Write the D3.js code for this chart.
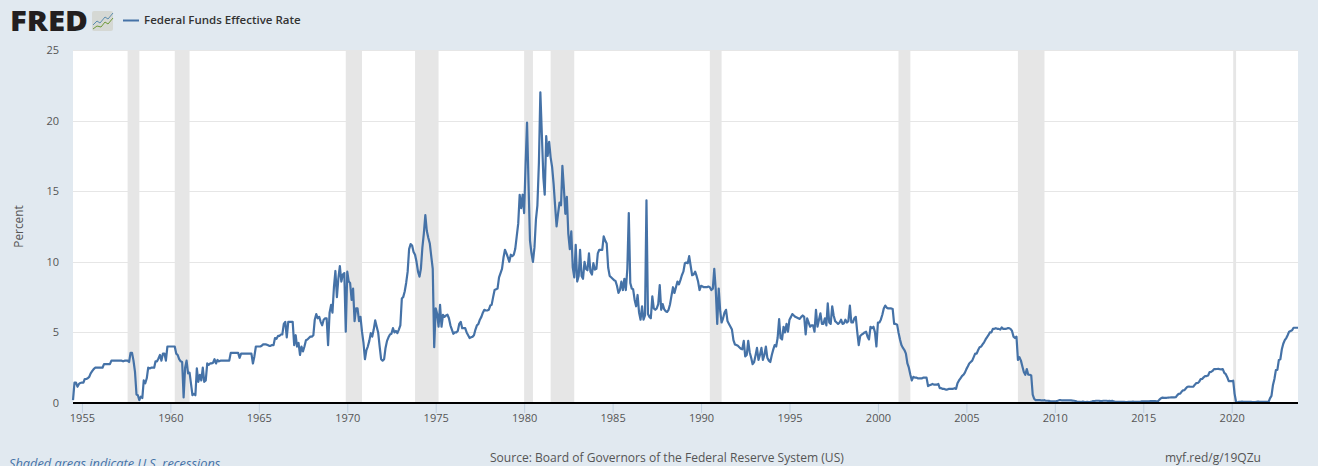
<!DOCTYPE html>
<html>
<head>
<meta charset="utf-8">
<script src="https://cdnjs.cloudflare.com/ajax/libs/d3/7.8.5/d3.min.js"></script>
<style>
  html, body { margin: 0; padding: 0; background: #e1e9f0; overflow: hidden; }
  text { font-family: "Open Sans", sans-serif; }
  .domain { display: none; }
</style>
</head>
<body>
<div id="vis-container"></div>
<script>
// monthly values, first one is July 1954
var rates1950s = [
  0.2, 1.45, 1.45, 1.15, 1.35, 1.42,
  1.45, 1.45, 1.7, 1.7, 1.75, 1.85, 2.1, 2.25, 2.4, 2.5, 2.5, 2.5,
  2.5, 2.5, 2.5, 2.75, 2.75, 2.75, 2.75, 2.75, 3.0, 3.0, 3.0, 3.0,
  3.0, 3.0, 3.0, 3.0, 2.95, 3.0, 3.0, 3.0, 2.9, 3.55, 3.55, 3.0,
  2.2, 0.6, 0.55, 0.2, 0.45, 0.35, 1.6, 1.4, 1.75, 2.5, 2.45, 2.5,
  2.5, 2.5, 2.95, 2.95, 3.15, 3.4, 3.0, 3.5, 3.5, 3.0, 4.0, 4.0
];
var rates1960s = [
  4.0, 4.0, 4.0, 4.0, 3.5, 3.4, 3.1, 2.95, 2.9, 0.4, 2.5, 3.0,
  2.1, 2.15, 1.4, 0.55, 0.65, 0.55, 2.45, 1.5, 2.0, 1.6, 2.5, 1.5,
  1.6, 2.8, 2.7, 2.8, 2.8, 2.85, 3.1, 2.8, 3.05, 2.95, 3.0, 3.0,
  3.0, 3.0, 3.0, 3.0, 3.0, 3.55, 3.55, 3.55, 3.55, 3.55, 3.55, 3.2,
  3.5, 3.5, 3.5, 3.5, 3.5, 3.5, 3.5, 3.5, 2.8, 3.3, 4.0, 4.0,
  4.0, 4.0, 4.05, 4.15, 4.15, 4.15, 4.1, 4.05, 4.05, 4.1, 4.1, 4.6,
  4.55, 4.75, 4.75, 4.85, 4.85, 5.6, 5.75, 4.65, 5.75, 5.75, 5.75, 5.75,
  4.1, 4.8, 4.0, 4.25, 3.4, 4.0, 3.65, 4.0, 4.45, 4.5, 4.6, 4.7,
  4.7, 4.8, 5.9, 6.3, 6.0, 6.1, 5.75, 5.5, 5.9, 6.0, 6.0, 4.1,
  6.4, 6.95, 6.4, 8.2, 9.35, 7.5, 8.8, 9.7, 8.6, 9.1, 9.2, 5.05
];
var rates1970s = [
  9.3, 8.6, 8.5, 7.3, 8.1, 5.8, 6.7, 6.7, 5.8, 6.1, 5.05, 4.3,
  3.1, 3.75, 4.0, 4.4, 4.95, 4.7, 5.2, 5.85, 5.4, 5.0, 4.0, 3.1,
  3.0, 3.1, 3.9, 4.4, 4.65, 4.85, 4.9, 5.3, 5.0, 5.1, 4.95, 5.2,
  5.5, 7.4, 7.5, 7.9, 8.5, 9.3, 10.9, 11.25, 11.15, 10.7, 10.5, 10.0,
  9.3, 8.95, 9.5, 11.0, 12.0, 13.3, 12.2, 11.7, 11.3, 10.4, 9.5, 3.95,
  6.7, 6.3, 5.4, 6.95, 5.4, 6.25, 6.1, 6.2, 6.25, 6.0, 5.5, 5.2,
  4.9, 5.0, 5.0, 5.1, 5.6, 5.75, 5.3, 5.3, 5.3, 5.0, 4.8, 4.6,
  4.65, 4.7, 4.8, 5.2, 5.5, 5.6, 5.9, 6.1, 6.4, 6.6, 6.55, 6.55,
  6.6, 6.9, 6.95, 7.5, 8.0, 8.05, 8.1, 8.9, 9.2, 9.5, 10.3, 10.85,
  10.6, 10.3, 10.0, 10.5, 10.4, 10.5, 10.9, 11.8, 12.7, 14.75, 13.8, 14.75
];
var rates1980s = [
  13.45, 17, 19.85, 15.5, 11.5, 10.6, 10.0, 11, 13, 14, 17, 22,
  19, 16, 14.75, 18.9, 17.5, 18.5, 17.4, 16.7, 15.5, 14, 12.5, 13.4,
  14.2, 14, 16.8, 15.2, 13.4, 14.6, 12, 10.9, 12.15, 9.6, 8.9, 11.2,
  8.6, 9, 10.85, 9, 8.8, 10, 9.5, 9.4, 10.6, 9.3, 9.1, 9.9,
  9.45, 9.5, 10.6, 10.85, 10.85, 10.85, 11.8, 11.5, 11.3, 9.6, 9.0, 8.9,
  8.8, 8.7, 8.65, 8.3, 7.8, 8.0, 8.6, 8.0, 8.8, 8.0, 9.5, 13.45,
  8.5, 8.1, 8.05, 7.3, 6.85, 7.65, 6.4, 5.9, 6.85, 5.9, 6.2, 14.35,
  6.3, 6.1, 6.0, 7.55, 6.7, 6.6, 6.7, 7.0, 8.35, 6.6, 7.0, 6.65,
  6.5, 6.45, 6.6, 7.0, 7.6, 8.2, 7.8, 8.2, 8.6, 8.4, 8.7, 9.05,
  9.3, 9.9, 9.95, 9.9, 10.4, 9.7, 9.05, 9.1, 9.3, 9.0, 8.6, 8.0
];
var rates1990s = [
  8.3, 8.25, 8.2, 8.2, 8.2, 8.25, 8.2, 8.0, 8.1, 9.5, 8.0, 5.6,
  8.1, 6.5, 5.7, 6.0, 6.4, 6.6, 5.8, 5.6, 5.4, 5.2, 4.45, 4.15,
  4.1, 4.05, 3.95, 3.85, 3.8, 4.4, 3.3, 3.4, 4.4, 3.6, 3.2, 2.75,
  2.9, 3.4, 3.9, 3.05, 3.4, 3.9, 3.05, 3.4, 4.0, 3.2, 3.0, 2.9,
  3.4, 3.8, 4.1, 4.0, 4.6, 5.95, 4.6, 4.5, 5.4, 5.0, 5.6, 5.05,
  5.9, 6.1, 6.3, 6.2, 6.1, 6.05, 6.0, 5.95, 6.1, 6.2, 6.1, 4.85,
  6.0, 5.7, 5.4, 5.5, 5.5, 5.05, 6.6, 5.4, 5.9, 6.35, 5.6, 5.6,
  6.0, 5.5, 7.05, 5.7, 5.6, 6.85, 6.2, 5.8, 5.7, 5.6, 5.7, 5.9,
  5.6, 5.65, 5.9, 5.7, 5.8, 6.9, 5.7, 5.7, 6.0, 6.1, 5.0, 4.1,
  4.75, 4.85, 4.9, 5.0, 5.05, 4.7, 4.5, 5.4, 5.3, 5.4, 5.0, 4.0
];
var rates2000s = [
  5.7, 5.7, 5.9, 6.25, 6.7, 6.9, 6.75, 6.7, 6.7, 6.7, 6.65, 5.6,
  5.6, 5.55, 5.0, 4.5, 4.1, 3.9, 3.75, 3.5, 2.8, 2.5, 2.0, 1.6,
  1.85, 1.8, 1.8, 1.75, 1.75, 1.75, 1.75, 1.8, 1.8, 1.8, 1.2, 1.25,
  1.3, 1.35, 1.3, 1.3, 1.3, 1.35, 1.05, 1.05, 1.0, 1.0, 0.95, 0.95,
  1.0, 1.0, 1.0, 1.0, 1.05, 1.0, 1.4, 1.6, 1.75, 1.9, 2.0, 2.15,
  2.4, 2.6, 2.8, 2.9, 3.0, 3.25, 3.5, 3.5, 3.75, 3.95, 4.0, 4.15,
  4.3, 4.5, 4.65, 4.8, 5.0, 5.0, 5.25, 5.25, 5.3, 5.25, 5.25, 5.2,
  5.35, 5.25, 5.25, 5.25, 5.3, 5.3, 5.25, 5.1, 4.7, 4.6, 4.7, 3.05,
  3.25, 3.0, 2.6, 2.2, 2.0, 2.4, 2.0, 2.0, 1.95, 0.6, 0.3, 0.2,
  0.2, 0.2, 0.2, 0.18, 0.18, 0.2, 0.16, 0.16, 0.15, 0.12, 0.12, 0.12
];
var rates2010s = [
  0.12, 0.13, 0.16, 0.2, 0.2, 0.18, 0.18, 0.19, 0.19, 0.19, 0.19, 0.18,
  0.17, 0.16, 0.14, 0.1, 0.09, 0.09, 0.07, 0.1, 0.08, 0.07, 0.08, 0.07,
  0.08, 0.1, 0.13, 0.14, 0.16, 0.16, 0.16, 0.13, 0.14, 0.16, 0.16, 0.16,
  0.14, 0.15, 0.14, 0.15, 0.11, 0.09, 0.09, 0.08, 0.08, 0.09, 0.08, 0.09,
  0.07, 0.07, 0.08, 0.09, 0.09, 0.1, 0.09, 0.09, 0.09, 0.09, 0.09, 0.12,
  0.11, 0.11, 0.11, 0.12, 0.12, 0.13, 0.13, 0.14, 0.14, 0.12, 0.12, 0.24,
  0.34, 0.38, 0.36, 0.37, 0.37, 0.38, 0.39, 0.4, 0.4, 0.4, 0.41, 0.54,
  0.65, 0.66, 0.79, 0.9, 0.91, 1.04, 1.15, 1.16, 1.15, 1.15, 1.16, 1.3,
  1.41, 1.42, 1.51, 1.69, 1.7, 1.82, 1.91, 1.91, 1.95, 2.19, 2.2, 2.27,
  2.4, 2.4, 2.41, 2.42, 2.39, 2.38, 2.4, 2.13, 2.04, 1.83, 1.55, 1.55
];
var rates2020s = [
  1.55, 1.58, 0.65, 0.05, 0.05, 0.08, 0.09, 0.1, 0.09, 0.09, 0.09, 0.09,
  0.09, 0.08, 0.07, 0.07, 0.06, 0.08, 0.1, 0.09, 0.08, 0.08, 0.08, 0.08,
  0.08, 0.08, 0.33, 0.5, 1.25, 1.7, 2.33, 2.35, 3.05, 3.1, 3.8, 4.2,
  4.45, 4.6, 4.8, 5.05, 5.1, 5.15, 5.33, 5.33, 5.33, 5.33
];
var recessionStart = ["1957-08", "1960-04", "1969-12", "1973-11", "1980-01", "1981-07", "1990-07", "2001-03", "2007-12", "2020-02"];
var recessionEnd   = ["1958-04", "1961-02", "1970-11", "1975-03", "1980-07", "1982-11", "1991-03", "2001-11", "2009-06", "2020-04"];
var xTickYears = [1955, 1960, 1965, 1970, 1975, 1980, 1985, 1990, 1995, 2000, 2005, 2010, 2015, 2020];
var yTickValues = [0, 5, 10, 15, 20, 25];

var seriesName = "Federal Funds Effective Rate";
var parseMonth = d3.timeParse("%Y-%m");
var firstMonth = parseMonth("1954-07");
var rates = [].concat(rates1950s, rates1960s, rates1970s, rates1980s, rates1990s, rates2000s, rates2010s, rates2020s);
var data = rates.map(function (v, i) {
    return { date: d3.timeMonth.offset(firstMonth, i), value: v };
});

//Set up margins
var margin = { top: 50, right: 20, bottom: 63, left: 73 };
var width  = 1318 - margin.left - margin.right;
var height = 466 - margin.top - margin.bottom;

var xScale = d3.scaleTime()
    .domain([firstMonth, data[data.length - 1].date])
    .range([0, width]);

var yScale = d3.scaleLinear()
    .domain([0, 25])
    .range([height, 0]);

//Create canvas
var svg = d3.select("#vis-container")
  .append("svg")
    .attr("width", 1318)
    .attr("height", 466)
    .style("display", "block");

var canvas = svg.append("g")
    .attr("transform", "translate(" + margin.left + "," + margin.top + ")");

canvas.append("rect")
    .attr("width", width)
    .attr("height", height)
    .attr("fill", "#ffffff");

// recession bands
canvas.selectAll(".recession")
    .data(recessionStart)
    .enter().append("rect")
    .attr("class", "recession")
    .attr("x", function (d) { return xScale(parseMonth(d)); })
    .attr("y", 0)
    .attr("width", function (d, i) { return xScale(parseMonth(recessionEnd[i])) - xScale(parseMonth(d)); })
    .attr("height", height)
    .attr("fill", "#e6e6e6");

// grid lines
canvas.selectAll(".grid")
    .data(yTickValues.slice(1))
    .enter().append("line")
    .attr("class", "grid")
    .attr("x1", 0)
    .attr("x2", width)
    .attr("y1", function (d) { return Math.round(yScale(d)) + 0.5; })
    .attr("y2", function (d) { return Math.round(yScale(d)) + 0.5; })
    .attr("stroke", "#e6e6e6");

// x axis
var xAxis = d3.axisBottom(xScale)
    .tickValues(xTickYears.map(function (y) { return new Date(y, 0, 1); }))
    .tickFormat(d3.timeFormat("%Y"))
    .tickSize(10)
    .tickPadding(1);
var xAxisG = canvas.append("g")
    .attr("class", "x axis")
    .attr("transform", "translate(0," + height + ")")
    .call(xAxis);
xAxisG.selectAll("line").attr("stroke", "#c0d0e0");
xAxisG.selectAll("text")
    .attr("fill", "#555555")
    .style("font-size", "11px")
    .style("font-family", "'Open Sans', sans-serif");

// y axis
var yAxis = d3.axisLeft(yScale)
    .tickValues(yTickValues)
    .tickSize(0)
    .tickPadding(14);
var yAxisG = canvas.append("g")
    .attr("class", "y axis")
    .call(yAxis);
yAxisG.selectAll("text")
    .attr("fill", "#555555")
    .style("font-size", "11px")
    .style("font-family", "'Open Sans', sans-serif");

canvas.append("text")
    .attr("transform", "translate(-50," + (height / 2) + ") rotate(-90)")
    .attr("text-anchor", "middle")
    .attr("fill", "#555555")
    .style("font-size", "11.8px")
    .text("Percent");

// the rate line
var line = d3.line()
    .x(function (d) { return xScale(d.date); })
    .y(function (d) { return yScale(d.value); });

canvas.append("path")
    .datum(data)
    .attr("fill", "none")
    .attr("stroke", "#4572a7")
    .attr("stroke-width", 2.2)
    .attr("stroke-linejoin", "round")
    .attr("d", line);

// black base line
canvas.append("line")
    .attr("x1", 0)
    .attr("x2", width)
    .attr("y1", height)
    .attr("y2", height)
    .attr("stroke", "#000000")
    .attr("stroke-width", 2);

// FRED logo
svg.append("text")
    .attr("x", 10)
    .attr("y", 30.5)
    .attr("fill", "#231f20")
    .attr("textLength", 78)
    .attr("lengthAdjust", "spacingAndGlyphs")
    .style("font-size", "28px")
    .style("font-weight", 800)
    .text("FRED");

var icon = svg.append("g").attr("transform", "translate(92,11)");
icon.append("rect")
    .attr("width", 21)
    .attr("height", 20)
    .attr("rx", 2)
    .attr("fill", "#d5d8d4");
icon.append("path")
    .attr("d", "M1,14 L5,10 L8,12 L13,6 L16,8 L21,2")
    .attr("fill", "none")
    .attr("stroke", "#5c8db0")
    .attr("stroke-width", 1);
icon.append("path")
    .attr("d", "M1,18 L5,15 L9,16 L13,11 L16,13 L21,7")
    .attr("fill", "none")
    .attr("stroke", "#6f9a3a")
    .attr("stroke-width", 1);

// legend
svg.append("line")
    .attr("x1", 123)
    .attr("x2", 139)
    .attr("y1", 20.5)
    .attr("y2", 20.5)
    .attr("stroke", "#4572a7")
    .attr("stroke-width", 2);
svg.append("text")
    .attr("x", 144)
    .attr("y", 24)
    .attr("fill", "#333333")
    .style("font-size", "11.5px")
    .style("font-weight", 600)
    .text(seriesName);

// footer
svg.append("text")
    .attr("x", 9)
    .attr("y", 467.5)
    .attr("fill", "#4572a7")
    .style("font-size", "12.8px")
    .style("font-style", "italic")
    .text("Shaded areas indicate U.S. recessions");
svg.append("text")
    .attr("x", 490)
    .attr("y", 462)
    .attr("fill", "#555555")
    .style("font-size", "12.07px")
    .text("Source: Board of Governors of the Federal Reserve System (US)");
svg.append("text")
    .attr("x", 1165)
    .attr("y", 462)
    .attr("fill", "#555555")
    .style("font-size", "12px")
    .text("myf.red/g/19QZu");
</script>
</body>
</html>
